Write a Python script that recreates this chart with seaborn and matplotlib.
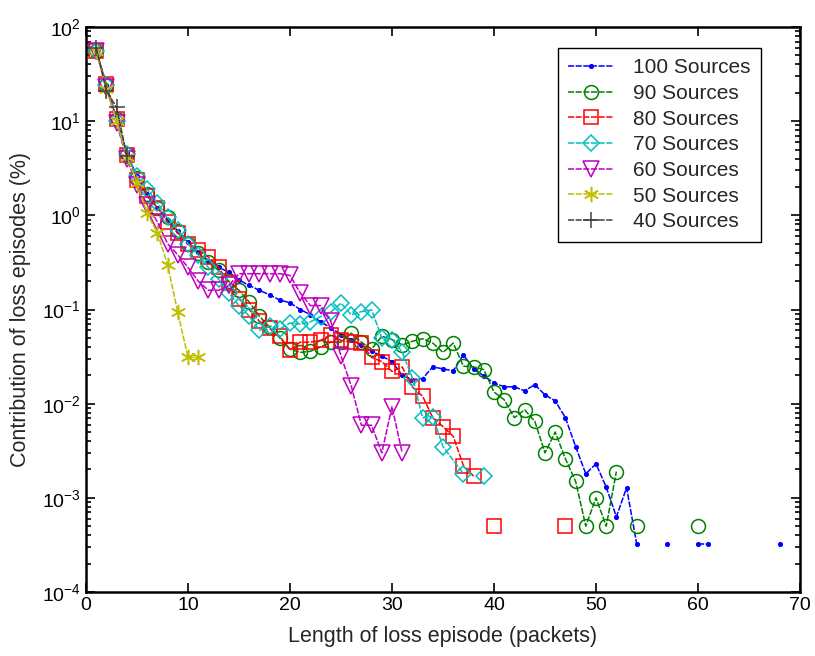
import numpy as np
import pandas as pd
import matplotlib
matplotlib.use("Agg")
import matplotlib.pyplot as plt
from matplotlib.lines import Line2D
from matplotlib.ticker import LogLocator, LogFormatterMathtext, NullFormatter, MultipleLocator
import seaborn as sns

# ---- data: contribution (%) of loss episodes by episode length (packets) ----
# None marks lengths with no observed episodes (no point, line broken there)
length_100 = list(range(1, 55)) + [55, 57, 58, 60, 61, 62, 68]
contrib_100 = [57, 24, 10.5, 4.6, 2.6, 1.7, 1.2, 0.9, 0.68, 0.52,
               0.41, 0.33, 0.28, 0.25, 0.206, 0.18, 0.16, 0.143, 0.126, 0.118,
               0.1, 0.088, 0.074, 0.064, 0.054, 0.048, 0.042, 0.036, 0.032, 0.028,
               0.02, 0.018, 0.0185, 0.0246, 0.0234, 0.0223, 0.033, 0.0234, 0.0197, 0.0166,
               0.0151, 0.0151, 0.0137, 0.0159, 0.0124, 0.0107, 0.0071, 0.0035, 0.0018, 0.0023,
               0.0013, 0.00063, 0.00128, 0.00032,
               None, 0.00032, None, 0.00032, 0.00032, None, 0.00032]

length_90 = list(range(1, 53)) + [53, 54, 55, 60]
contrib_90 = [55, 24, 10.5, 4.5, 2.5, 1.7, 1.2, 0.95, 0.68, 0.5,
              0.4, 0.32, 0.26, 0.2, 0.16, 0.12, 0.085, 0.065, 0.05, 0.038,
              0.035, 0.036, 0.04, 0.045, 0.045, 0.056, 0.045, 0.038, 0.052, 0.048,
              0.042, 0.046, 0.049, 0.044, 0.035, 0.044, 0.025, 0.0246, 0.023, 0.0133,
              0.011, 0.0071, 0.0086, 0.0065, 0.003, 0.005, 0.0026, 0.0015, 0.0005, 0.001,
              0.0005, 0.0019,
              None, 0.0005, None, 0.0005]

length_80 = list(range(1, 39)) + [39, 40, 41, 47]
contrib_80 = [55, 25, 10.5, 4.4, 2.4, 1.6, 1.2, 0.85, 0.65, 0.5,
              0.43, 0.36, 0.28, 0.19, 0.13, 0.1, 0.075, 0.063, 0.052, 0.037,
              0.045, 0.045, 0.047, 0.054, 0.047, 0.045, 0.044, 0.031, 0.028, 0.022,
              0.0245, 0.015, 0.012, 0.0071, 0.0057, 0.0045, 0.0022, 0.0017,
              None, 0.0005, None, 0.0005]

length_70 = list(range(1, 36)) + [37, 38, 39]
contrib_70 = [55, 24, 10, 4.5, 2.6, 1.9, 1.35, 0.95, 0.7, 0.5,
              0.38, 0.28, 0.21, 0.15, 0.11, 0.085, 0.06, 0.067, 0.062, 0.072,
              0.07, 0.074, 0.084, 0.094, 0.117, 0.088, 0.095, 0.099, 0.05, 0.048,
              0.0355, 0.0188, 0.0071, 0.0073, 0.0035,
              0.0018, None, 0.0017]

length_60 = list(range(1, 32))
contrib_60 = [55, 23, 9.5, 4.0, 2.1, 1.3, 0.85, 0.5, 0.38, 0.28,
              0.2, 0.16, 0.16, 0.18, 0.24, 0.24, 0.24, 0.24, 0.24, 0.23,
              0.15, 0.11, 0.11, 0.075, 0.032, 0.0155, 0.0059, 0.0059, 0.003, 0.0093,
              0.003]

length_50 = list(range(1, 12))
contrib_50 = [55, 22, 10, 4.2, 2.2, 1.05, 0.65, 0.3, 0.093, 0.031, 0.031]

length_40 = [1, 2, 3, 4]
contrib_40 = [60, 21, 14, 4.3]

labels = ["100 Sources", "90 Sources", "80 Sources", "70 Sources",
          "60 Sources", "50 Sources", "40 Sources"]
lengths = [length_100, length_90, length_80, length_70, length_60, length_50, length_40]
contribs = [contrib_100, contrib_90, contrib_80, contrib_70, contrib_60, contrib_50, contrib_40]

# ---- styling (classic MATLAB colour order and markers) ----
colors = ["#0000ff", "#008000", "#ff0000", "#00bfbf", "#bf00bf", "#bfbf00", "#404040"]
markers = ["o", "o", "s", "D", "v", (6, 2, 0), "+"]
msizes = [2.6, 10, 9.5, 8.5, 11, 11, 12]

frames = []
for lab, xs, ys in zip(labels, lengths, contribs):
    d = pd.DataFrame({"length": xs, "contribution": pd.array(ys, dtype="float")})
    d["sources"] = lab
    d["segment"] = d["contribution"].isna().cumsum()
    frames.append(d.dropna())
data = pd.concat(frames, ignore_index=True)

sns.set_style("ticks")
plt.rcParams["font.family"] = ["Liberation Sans", "DejaVu Sans"]
plt.rcParams["mathtext.fontset"] = "custom"
plt.rcParams["mathtext.rm"] = "Liberation Sans"
plt.rcParams["mathtext.it"] = "Liberation Sans:italic"
plt.rcParams["mathtext.default"] = "regular"

fig = plt.figure(figsize=(8.15, 6.56), dpi=100)
ax = fig.add_axes([86 / 815, 1 - 592 / 656, 714 / 815, 565 / 656])
ax.set_yscale("log")

handles = []
for lab, c, m, ms in zip(labels, colors, markers, msizes):
    sub = data[data["sources"] == lab]
    filled = lab == "100 Sources"
    style = dict(color=c, marker=m, markersize=ms,
                 markerfacecolor=c if filled else "none",
                 markeredgecolor=c, markeredgewidth=1.1,
                 linewidth=1.1, linestyle=(0, (4, 1)))
    sns.lineplot(data=sub, x="length", y="contribution", units="segment",
                 estimator=None, sort=False, ax=ax, legend=False, **style)
    handles.append(Line2D([], [], label=lab, **style))

ax.set_xlim(0, 70)
ax.set_ylim(1e-4, 1e2)
ax.xaxis.set_major_locator(MultipleLocator(10))
ax.yaxis.set_major_locator(LogLocator(base=10, numticks=10))
ax.yaxis.set_minor_locator(LogLocator(base=10, subs=np.arange(2, 10), numticks=20))
ax.yaxis.set_major_formatter(LogFormatterMathtext())
ax.yaxis.set_minor_formatter(NullFormatter())

ax.tick_params(which="both", direction="in", top=True, right=True,
               labelsize=14, colors="black", width=1.2)
ax.tick_params(which="major", length=6.5)
ax.tick_params(which="minor", length=3.5)
for sp in ax.spines.values():
    sp.set_linewidth(1.8)
    sp.set_color("black")

ax.set_xlabel("Length of loss episode (packets)", fontsize=15.5, labelpad=9)
ax.set_ylabel("Contribution of loss episodes (%)", fontsize=15.5, labelpad=8)

leg = ax.legend(handles=handles, loc="upper right", bbox_to_anchor=(0.945, 0.963),
                borderaxespad=0, fontsize=15, frameon=True, fancybox=False,
                edgecolor="black", framealpha=1, handlelength=2.2,
                labelspacing=0.32, borderpad=0.5, handletextpad=0.9)
leg.get_frame().set_linewidth(1.0)

fig.savefig("out.png", dpi=100)
